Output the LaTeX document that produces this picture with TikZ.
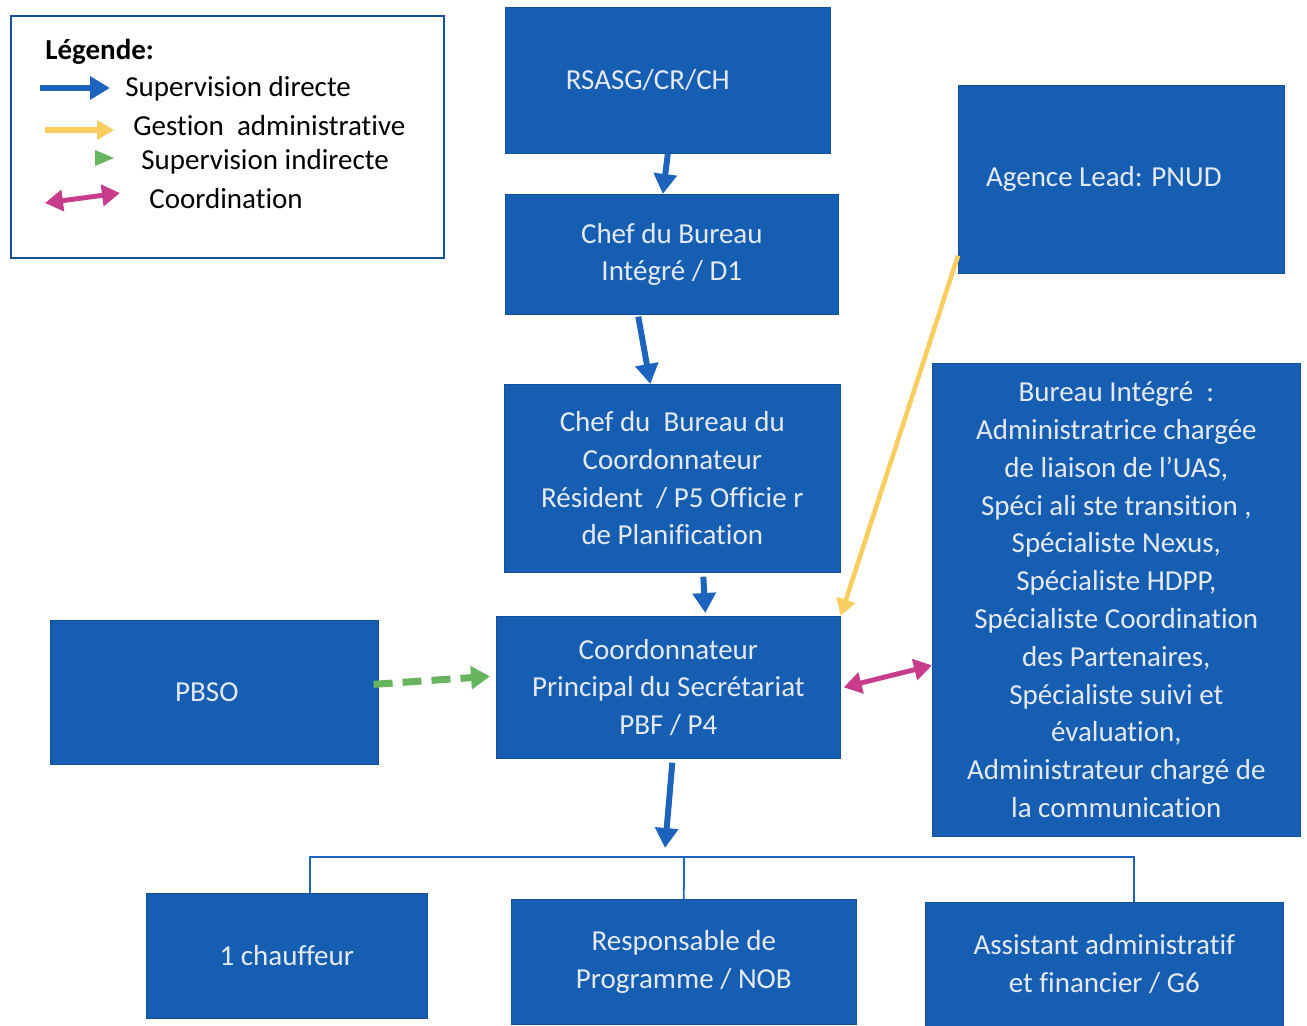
\documentclass[tikz,border=0pt]{standalone}
\usepackage{fontspec}
\setmainfont{Carlito}[Ligatures=NoCommon]
\usetikzlibrary{arrows.meta}
\definecolor{bleubloc}{RGB}{22,94,178}
\definecolor{bleufleche}{RGB}{28,100,190}
\definecolor{jaune}{RGB}{250,205,95}
\definecolor{vert}{RGB}{105,180,95}
\definecolor{magenta}{RGB}{200,60,140}
\definecolor{texteclair}{RGB}{228,233,243}
\newcommand\corps{\fontsize{16.5}{21.5}\selectfont}
\tikzset{
  bloc/.style={draw=bleubloc!85!black, fill=bleubloc, text=texteclair, align=center,
    anchor=north west, inner sep=0pt, font=\corps},
  legtexte/.style={anchor=west, inner sep=0pt, font=\corps},
  directe/.style={draw=bleufleche, line width=3.4pt, -{Triangle[length=0.4cm, width=0.45cm]}},
  gestion/.style={draw=jaune, line width=2.6pt, -{Triangle[length=0.34cm, width=0.38cm]}},
  indirecte/.style={draw=vert, line width=4pt, dash pattern=on 0.38cm off 0.2cm,
    -{Triangle[length=0.38cm, width=0.45cm]}},
  coordin/.style={draw=magenta, line width=2.8pt, {Triangle[length=0.36cm, width=0.42cm]}-{Triangle[length=0.36cm, width=0.42cm]}},
  lien/.style={draw=bleufleche, line width=1pt}
}
\begin{document}
\begin{tikzpicture}[x=0.02cm, y=-0.02cm]
    \useasboundingbox (0,0) rectangle (1307,1026);
    %Legende
    \node[draw=bleufleche!80!black, line width=1.2pt, minimum width=8.66cm, minimum height=4.84cm,
          anchor=north west] (legende) at (10,15) {};
    \node[legtexte, font=\corps\bfseries] (titre) at (45,52) {Légende:};
    \coordinate (l1a) at (40,88);  \coordinate (l1b) at (110,88);
    \coordinate (l2a) at (45,130); \coordinate (l2b) at (114,130);
    \coordinate (l4a) at (45,203); \coordinate (l4b) at (120,193);
    \draw[directe] (l1a) -- (l1b);
    \draw[gestion, line width=3.6pt] (l2a) -- (l2b);
    \fill[vert] (95,150) -- (114,158) -- (95,166) -- cycle;
    \draw[coordin] (l4a) -- (l4b);
    \node[legtexte] (t1) at (125,89)  {Supervision directe};
    \node[legtexte] (t2) at (133,126) {Gestion\ \ administrative};
    \node[legtexte] (t3) at (141,162) {Supervision indirecte};
    \node[legtexte] (t4) at (149,199) {Coordination};
    %Cadres
    \node[bloc, minimum width=6.5cm,  minimum height=2.92cm] (rsasg)  at (505,7)   {RSASG/CR/CH\hspace{0.8cm}};
    \node[bloc, minimum width=6.66cm, minimum height=2.4cm]  (chefbi) at (505,194) {Chef du Bureau\\Intégré / D1\hspace{0.3cm}};
    \node[bloc, minimum width=6.52cm, minimum height=3.76cm] (agence) at (958,85)  {Agence Lead: PNUD\hspace{0.7cm}};
    \node[bloc, minimum width=6.72cm, minimum height=3.76cm] (chefcr) at (504,384) {Chef du\ \ Bureau du\\Coordonnateur\\Résident\ \ / P5\ Officie r\\de Planification};
    \node[bloc, minimum width=7.36cm, minimum height=9.46cm] (bureau) at (932,363)
      {Bureau Intégré\ \ :\\Administratrice chargée\\de liaison de l’UAS,\\Spéci ali ste transition ,\\Spécialiste Nexus,\\Spécialiste HDPP,\\Spécialiste Coordination\\des Partenaires,\\Spécialiste suivi et\\évaluation,\\Administrateur chargé de\\la communication\hspace{0.4cm}};
    \node[bloc, minimum width=6.56cm, minimum height=2.88cm] (pbso)   at (50,620)  {PBSO\hspace{0.3cm}};
    \node[bloc, minimum width=6.88cm, minimum height=2.84cm] (coord)  at (496,616) {Coordonnateur\\Principal du Secrétariat\\PBF / P4};
    \node[bloc, minimum width=5.62cm, minimum height=2.5cm]  (chauffeur) at (146,893) {1 chauffeur};
    \node[bloc, minimum width=6.9cm,  minimum height=2.5cm]  (respo)  at (511,899) {Responsable de\\Programme / NOB\hspace{0.2cm}};
    \node[bloc, minimum width=7.16cm, minimum height=2.48cm] (assist) at (925,902) {Assistant administratif\\et financier / G6};
    %Liens
    \coordinate (jonction) at (665,848);
    \coordinate (bus) at (684,857);
    \draw[directe] (rsasg.south) -- ([xshift=-0.18cm]chefbi.north);
    \draw[directe] ([xshift=-0.67cm, yshift=-0.04cm]chefbi.south) -- ([xshift=-0.44cm]chefcr.north);
    \draw[directe] ([xshift=0.62cm, yshift=-0.08cm]chefcr.south) -- ([xshift=0.74cm, yshift=0.06cm]coord.north);
    \draw[gestion] ([yshift=0.36cm]agence.south west) -- (coord.north east);
    \draw[indirecte] ([xshift=-0.1cm, yshift=0.16cm]pbso.east) -- ([xshift=-0.12cm, yshift=0.22cm]coord.west);
    \draw[coordin] ([xshift=0.06cm]coord.east) -- ([yshift=-1.31cm]bureau.west);
    \draw[directe] ([xshift=0.08cm, yshift=-0.08cm]coord.south) -- (jonction);
    \draw[lien] ([xshift=0.47cm]chauffeur.north) |- (bus) -| ([xshift=0.6cm]assist.north);
    \draw[lien] (bus) -- (respo.north);
\end{tikzpicture}
\end{document}
